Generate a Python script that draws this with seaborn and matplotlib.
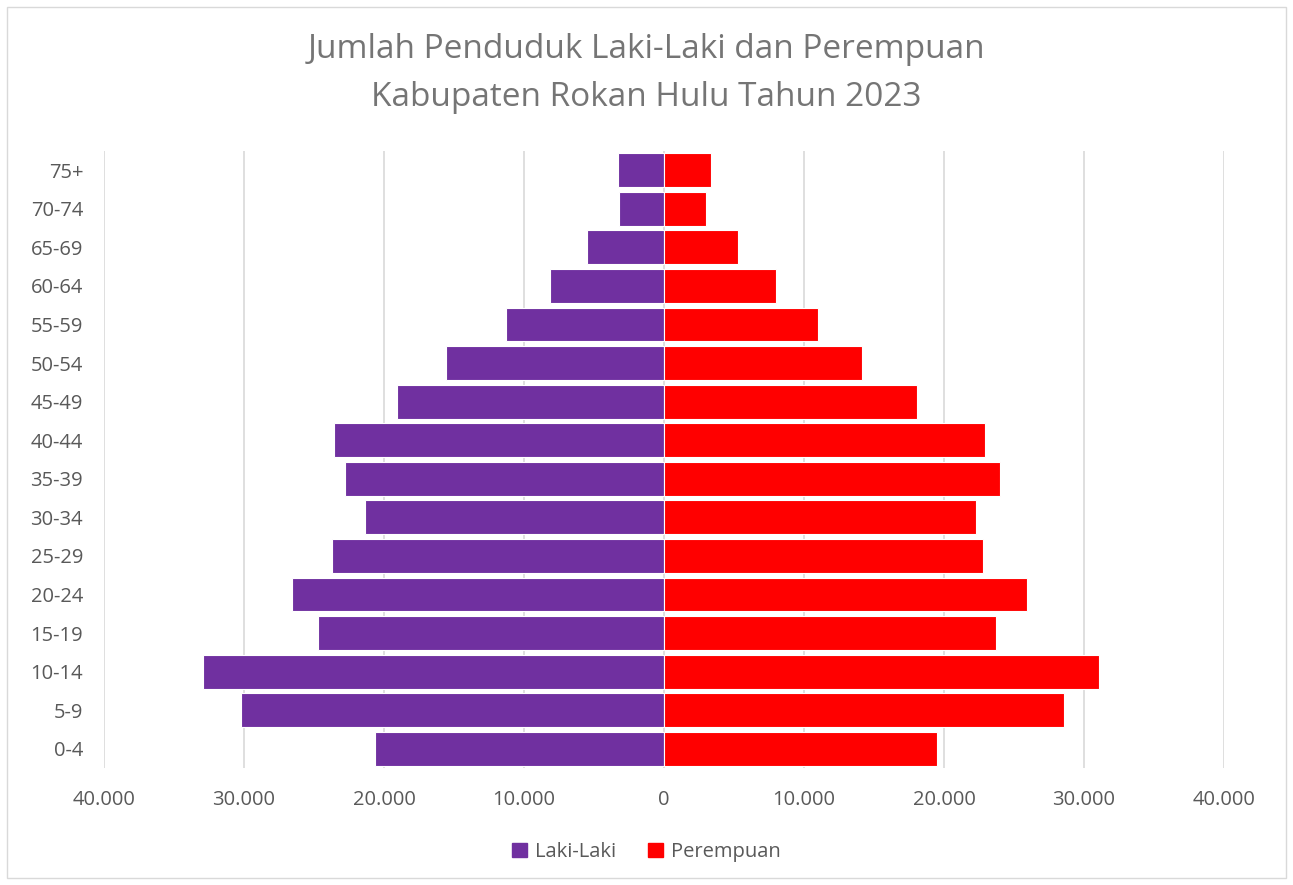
import matplotlib
matplotlib.use("Agg")
import matplotlib.pyplot as plt
import seaborn as sns
import pandas as pd
from matplotlib.patches import Rectangle, Patch
from matplotlib.ticker import FuncFormatter

age_groups = ["0-4", "5-9", "10-14", "15-19", "20-24", "25-29", "30-34", "35-39",
              "40-44", "45-49", "50-54", "55-59", "60-64", "65-69", "70-74", "75+"]
laki_laki = [20650, 30220, 32940, 24680, 26590, 23680, 21370, 22820,
             23560, 19050, 15550, 11270, 8120, 5530, 3240, 3310]
perempuan = [19480, 28540, 31050, 23700, 25950, 22770, 22250, 23970,
             22920, 18050, 14170, 10970, 7990, 5270, 2980, 3340]
x_ticks = [-40000, -30000, -20000, -10000, 0, 10000, 20000, 30000, 40000]

df = pd.DataFrame({"age": age_groups * 2,
                   "value": [-v for v in laki_laki] + perempuan,
                   "sex": ["Laki-Laki"] * len(age_groups) + ["Perempuan"] * len(age_groups)})

sns.set_style("white")
plt.rcParams['font.family'] = ['Open Sans', 'DejaVu Sans']

fig = plt.figure(figsize=(12.93, 8.85), dpi=100)
ax = fig.add_axes([104/1293, 1-768/885, 1120/1293, 617/885])

colors = {"Laki-Laki": "#7030A0", "Perempuan": "#FF0000"}
order = list(reversed(age_groups))
sns.barplot(data=df, x="value", y="age", hue="sex", order=order, palette=colors,
            dodge=False, orient="h", width=0.88, edgecolor="white", linewidth=0.8,
            saturation=1, ax=ax, legend=False, zorder=3)

ax.set_xlim(-40000, 40000)
ax.set_xticks(x_ticks)
ax.xaxis.set_major_formatter(FuncFormatter(lambda v, p: f"{abs(int(v)):,}".replace(",", ".")))
ax.grid(axis="x", color="#d9d9d9", linewidth=1.2, zorder=0)
ax.grid(axis="y", visible=False)
ax.set_axisbelow(True)
for s in ax.spines.values():
    s.set_visible(False)
ax.tick_params(axis="both", length=0, labelsize=14.5, labelcolor="#595959")
ax.tick_params(axis="x", pad=16)
ax.tick_params(axis="y", pad=15)
ax.set_xlabel("")
ax.set_ylabel("")

fig.text(0.5, 1-50/885, "Jumlah Penduduk Laki-Laki dan Perempuan", ha="center", va="center",
         fontsize=24, color="#757575")
fig.text(0.5, 1-98/885, "Kabupaten Rokan Hulu Tahun 2023", ha="center", va="center",
         fontsize=24, color="#757575")

handles = [Patch(facecolor=colors[k], edgecolor=colors[k]) for k in ["Laki-Laki", "Perempuan"]]
fig.legend(handles, ["Laki-Laki", "Perempuan"], loc="center", bbox_to_anchor=(0.5, 1-852/885),
           ncol=2, frameon=False, fontsize=14.5, labelcolor="#595959",
           handlelength=0.75, handleheight=0.75, handletextpad=0.4, columnspacing=1.6)

fig.patches.append(Rectangle((7/1293, 7/885), 1279/1293, 871/885, transform=fig.transFigure,
                             fill=False, edgecolor="#d9d9d9", linewidth=1))

fig.savefig("out.png", dpi=100)
